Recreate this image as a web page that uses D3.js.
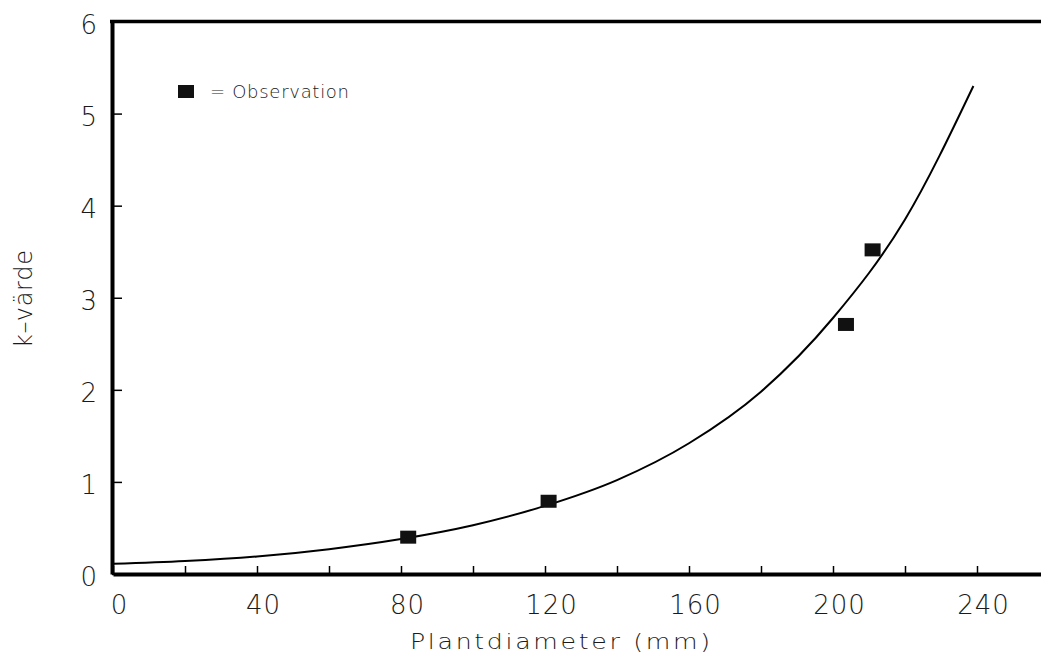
<!DOCTYPE html>
<html>
<head>
<meta charset="utf-8">
<script src="https://cdn.jsdelivr.net/npm/d3@7"></script>
<style>
  html, body { margin: 0; padding: 0; background: #fff; overflow: hidden; }
  svg { display: block; }
  text { font-family: "DejaVu Sans", Lato, sans-serif; font-weight: 200; fill: #1a1a1a; }
</style>
</head>
<body>
<svg id="chart" width="1041" height="659"></svg>
<script>
// Observations (Plantdiameter mm, k-värde)
const obsX = [82, 121, 203.6, 211];
const obsY = [0.40, 0.79, 2.71, 3.52];

// Fitted curve
const curveX = [0, 20, 40, 60, 80, 100, 120, 140, 160, 180, 200, 220, 239];
const curveY = [0.11, 0.14, 0.19, 0.27, 0.38, 0.53, 0.74, 1.02, 1.42, 1.98, 2.78, 3.85, 5.30];

const xTicks = [0, 20, 40, 60, 80, 100, 120, 140, 160, 180, 200, 220, 240];
const xTickLabels = ["0", "", "40", "", "80", "", "120", "", "160", "", "200", "", "240"];
const yTicks = [0, 1, 2, 3, 4, 5, 6];
const yTickLabels = ["0", "1", "2", "3", "4", "5", "6"];

const xTitle = "Plantdiameter (mm)";
const yTitle = "k–värde";
const legendLabel = "= Observation";

const svg = d3.select("#chart");

const x = d3.scaleLinear().domain([0, 260]).range([113, 113 + 260 * 3.6]);
const y = d3.scaleLinear().domain([0, 6]).range([574, 21.5]);

// Curve
const line = d3.line()
  .x(d => x(d[0]))
  .y(d => y(d[1]))
  .curve(d3.curveMonotoneX);
svg.append("path")
  .datum(curveX.map((v, i) => [v, curveY[i]]))
  .attr("d", line)
  .attr("fill", "none")
  .attr("stroke", "#000")
  .attr("stroke-width", 2);

// Observations
svg.append("g").selectAll("rect")
  .data(obsX.map((v, i) => [v, obsY[i]]))
  .join("rect")
  .attr("x", d => x(d[0]) - 8)
  .attr("y", d => y(d[1]) - 6.5)
  .attr("width", 16)
  .attr("height", 13)
  .attr("fill", "#111");

const tickFont = sel => sel
  .style("font-family", "'DejaVu Sans', Lato, sans-serif")
  .style("font-weight", 200)
  .style("font-size", "26px")
  .attr("fill", "#1a1a1a");

// X axis
const xAxis = d3.axisBottom(x)
  .tickValues(xTicks)
  .tickFormat((d, i) => xTickLabels[i])
  .tickSizeInner(-8)
  .tickSizeOuter(0)
  .tickPadding(22);
const gx = svg.append("g").attr("transform", `translate(0,${y(0)})`).call(xAxis);
gx.select(".domain").attr("stroke", "#000").attr("stroke-width", 4);
gx.selectAll(".tick line").attr("stroke", "#000").attr("stroke-width", 1.5);
gx.selectAll(".tick text")
  .attr("dx", 6)
  .call(tickFont)
  .style("letter-spacing", "1px");

// Y axis
const yAxis = d3.axisLeft(y)
  .tickValues(yTicks)
  .tickFormat((d, i) => yTickLabels[i])
  .tickSizeInner(-10)
  .tickSizeOuter(0)
  .tickPadding(15);
const gy = svg.append("g").attr("transform", `translate(${x(0) - 1},0)`).call(yAxis);
gy.select(".domain").attr("stroke", "#000").attr("stroke-width", 4);
gy.selectAll(".tick line").attr("stroke", "#000").attr("stroke-width", 1.5);
gy.selectAll(".tick text")
  .attr("dy", "0.45em")
  .call(tickFont);

// Top border
svg.append("line")
  .attr("x1", x(0) - 3).attr("x2", x(260))
  .attr("y1", y(6)).attr("y2", y(6))
  .attr("stroke", "#000").attr("stroke-width", 3.5);

// Axis titles
svg.append("text")
  .attr("transform", "translate(410,649) scale(1.2,1)")
  .attr("textLength", 250)
  .attr("lengthAdjust", "spacing")
  .style("font-size", "21px")
  .text(xTitle);

svg.append("text")
  .attr("transform", "translate(32,348) rotate(-90)")
  .attr("textLength", 98)
  .attr("lengthAdjust", "spacing")
  .style("font-size", "24px")
  .text(yTitle);

// Legend
svg.append("rect")
  .attr("x", 178).attr("y", 85)
  .attr("width", 16).attr("height", 13)
  .attr("fill", "#111");
svg.append("text")
  .attr("x", 210).attr("y", 98)
  .attr("textLength", 139)
  .attr("lengthAdjust", "spacing")
  .style("font-size", "18px")
  .text(legendLabel);
</script>
</body>
</html>
